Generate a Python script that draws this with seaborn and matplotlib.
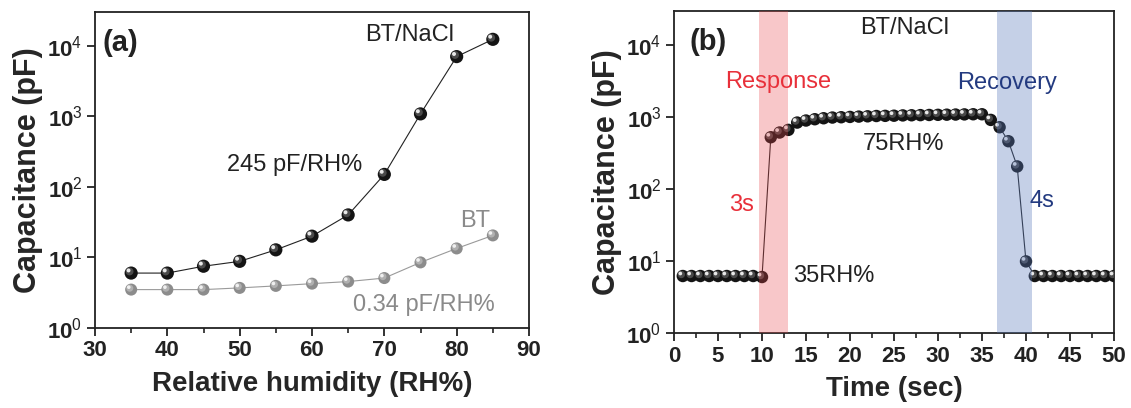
import numpy as np
import pandas as pd
import matplotlib
matplotlib.use("Agg")
import matplotlib.pyplot as plt
import matplotlib.transforms as mtransforms
from matplotlib.ticker import MultipleLocator, FixedLocator, FixedFormatter, NullLocator
import seaborn as sns

# ---------------- data ----------------
rh = [35, 40, 45, 50, 55, 60, 65, 70, 75, 80, 85]
cap_bt_nacl = [6.0, 6.0, 7.5, 8.8, 12.8, 20, 40, 150, 1080, 7000, 12300]
cap_bt = [3.5, 3.5, 3.5, 3.7, 3.95, 4.25, 4.55, 5.1, 8.5, 13.4, 20.5]

time_s = [1, 2, 3, 4, 5, 6, 7, 8, 9, 10,
          11, 12, 13, 14, 15, 16, 17, 18, 19, 20,
          21, 22, 23, 24, 25, 26, 27, 28, 29, 30,
          31, 32, 33, 34, 35, 36, 37, 38, 39, 40,
          41, 42, 43, 44, 45, 46, 47, 48, 49, 50]
cap_time = [6.2, 6.2, 6.2, 6.2, 6.2, 6.2, 6.2, 6.2, 6.2, 6.0,
            527, 613, 667, 843, 900, 938, 968, 990, 1000, 1010,
            1020, 1030, 1040, 1045, 1050, 1060, 1065, 1070, 1075, 1080,
            1085, 1090, 1095, 1100, 1100, 918, 726, 464, 207, 9.9,
            6.2, 6.2, 6.2, 6.2, 6.2, 6.2, 6.2, 6.2, 6.2, 6.2]

ytick_vals = [1, 10, 100, 1000, 10000]
ytick_labels = [r"$\mathbf{10}^{0}$", r"$\mathbf{10}^{1}$", r"$\mathbf{10}^{2}$",
                r"$\mathbf{10}^{3}$", r"$\mathbf{10}^{4}$"]

response_span = (9.65, 12.9)
recovery_span = (36.7, 40.7)

# ---------------- style ----------------
sns.set_style("ticks")
plt.rcParams["font.family"] = ["Liberation Sans", "DejaVu Sans"]
plt.rcParams["mathtext.fontset"] = "custom"
plt.rcParams["mathtext.rm"] = "Liberation Sans"
plt.rcParams["mathtext.bf"] = "Liberation Sans:bold"
plt.rcParams["axes.linewidth"] = 1.2
plt.rcParams["axes.edgecolor"] = "#222222"

RED = "#E8303A"
NAVY = "#233A80"
GRAY = "#8a8a8a"

fig = plt.figure(figsize=(11.31, 4.08), dpi=100)
ax1 = fig.add_axes([95 / 1131, 80 / 408, 434 / 1131, 316 / 408])
ax2 = fig.add_axes([674 / 1131, 75 / 408, 440 / 1131, 322 / 408])


def sphere(ax, x, y, base, mid, hi, size, z=3):
    """Draw shaded 'sphere' markers via stacked scatter layers."""
    d = np.sqrt(size)
    sns.scatterplot(x=x, y=y, ax=ax, s=size, color=base, edgecolor="none",
                    zorder=z, legend=False)
    tr1 = mtransforms.offset_copy(ax.transData, fig=fig, x=-0.12 * d, y=0.12 * d, units="points")
    sns.scatterplot(x=x, y=y, ax=ax, s=size * 0.35, color=mid, edgecolor="none",
                    zorder=z + 0.1, legend=False, transform=tr1)
    tr2 = mtransforms.offset_copy(ax.transData, fig=fig, x=-0.2 * d, y=0.2 * d, units="points")
    sns.scatterplot(x=x, y=y, ax=ax, s=size * 0.09, color=hi, edgecolor="none",
                    zorder=z + 0.2, legend=False, transform=tr2)


def style_axes(ax):
    ax.set_yscale("log")
    ax.set_ylim(1, 3e4)
    ax.yaxis.set_major_locator(FixedLocator(ytick_vals))
    ax.yaxis.set_major_formatter(FixedFormatter(ytick_labels))
    ax.yaxis.set_minor_locator(NullLocator())
    ax.tick_params(axis="both", which="major", direction="out", length=6, width=1.3,
                   labelsize=16, colors="#222222", pad=3)
    ax.tick_params(axis="x", which="minor", direction="out", length=3.5, width=1.2,
                   colors="#222222")
    for lab in ax.get_xticklabels() + ax.get_yticklabels():
        lab.set_fontweight("bold")
    for sp in ax.spines.values():
        sp.set_visible(True)
        sp.set_linewidth(1.3)
    ax.set_ylabel("Capacitance (pF)", fontsize=22, fontweight="bold", labelpad=3)


# ---------------- panel (a) ----------------
df_a = pd.DataFrame({"rh": rh, "nacl": cap_bt_nacl, "bt": cap_bt})
ax1.set_yscale("log")
sns.lineplot(data=df_a, x="rh", y="bt", ax=ax1, color="#9a9a9a", lw=0.8, zorder=2)
sns.lineplot(data=df_a, x="rh", y="nacl", ax=ax1, color="#222222", lw=0.8, zorder=2)
sphere(ax1, df_a["rh"], df_a["bt"], "#8c8c8c", "#b0b0b0", "#f0f0f0", 75)
sphere(ax1, df_a["rh"], df_a["nacl"], "#141414", "#4a4a4a", "#e8e8e8", 90)
ax1.set_xlim(30, 90)
ax1.xaxis.set_major_locator(MultipleLocator(10))
ax1.xaxis.set_minor_locator(MultipleLocator(5))
style_axes(ax1)
ax1.set_xlabel("Relative humidity (RH%)", fontsize=20, fontweight="bold", labelpad=7)

ax1.text(33.5, 1.1e4, "(a)", fontsize=21, fontweight="bold", ha="center", va="center", color="#222222")
ax1.text(73.5, 1.41e4, "BT/NaCl", fontsize=17, ha="center", va="center", color="#222222")
ax1.text(57.6, 202, "245 pF/RH%", fontsize=17, ha="center", va="center", color="#222222")
ax1.text(82.6, 32.7, "BT", fontsize=17, ha="center", va="center", color=GRAY)
ax1.text(75.5, 2.14, "0.34 pF/RH%", fontsize=17, ha="center", va="center", color=GRAY)

# ---------------- panel (b) ----------------
df_b = pd.DataFrame({"t": time_s, "c": cap_time})
ax2.set_yscale("log")
sns.lineplot(data=df_b, x="t", y="c", ax=ax2, color="#222222", lw=0.8, zorder=2)
sphere(ax2, df_b["t"], df_b["c"], "#141414", "#4a4a4a", "#e8e8e8", 80)
ax2.axvspan(*response_span, color="#E8484E", alpha=0.3, lw=0, zorder=5)
ax2.axvspan(*recovery_span, color="#5979BD", alpha=0.35, lw=0, zorder=5)
ax2.set_xlim(0, 50)
ax2.xaxis.set_major_locator(MultipleLocator(5))
ax2.xaxis.set_minor_locator(MultipleLocator(2.5))
style_axes(ax2)
ax2.set_xlabel("Time (sec)", fontsize=20, fontweight="bold", labelpad=7)

ax2.text(3.9, 1.1e4, "(b)", fontsize=21, fontweight="bold", ha="center", va="center", color="#222222", zorder=6)
ax2.text(26.2, 1.74e4, "BT/NaCl", fontsize=17, ha="center", va="center", color="#222222", zorder=6)
ax2.text(11.8, 3050, "Response", fontsize=17, ha="center", va="center", color=RED, zorder=6)
ax2.text(37.9, 3000, "Recovery", fontsize=17, ha="center", va="center", color=NAVY, zorder=6)
ax2.text(26.1, 427, "75RH%", fontsize=17, ha="center", va="center", color="#222222", zorder=6)
ax2.text(18.1, 6.2, "35RH%", fontsize=17, ha="center", va="center", color="#222222", zorder=6)
ax2.text(7.7, 60, "3s", fontsize=17, ha="center", va="center", color=RED, zorder=6)
ax2.text(41.8, 68, "4s", fontsize=17, ha="center", va="center", color=NAVY, zorder=6)

fig.savefig("out.png", dpi=100)
